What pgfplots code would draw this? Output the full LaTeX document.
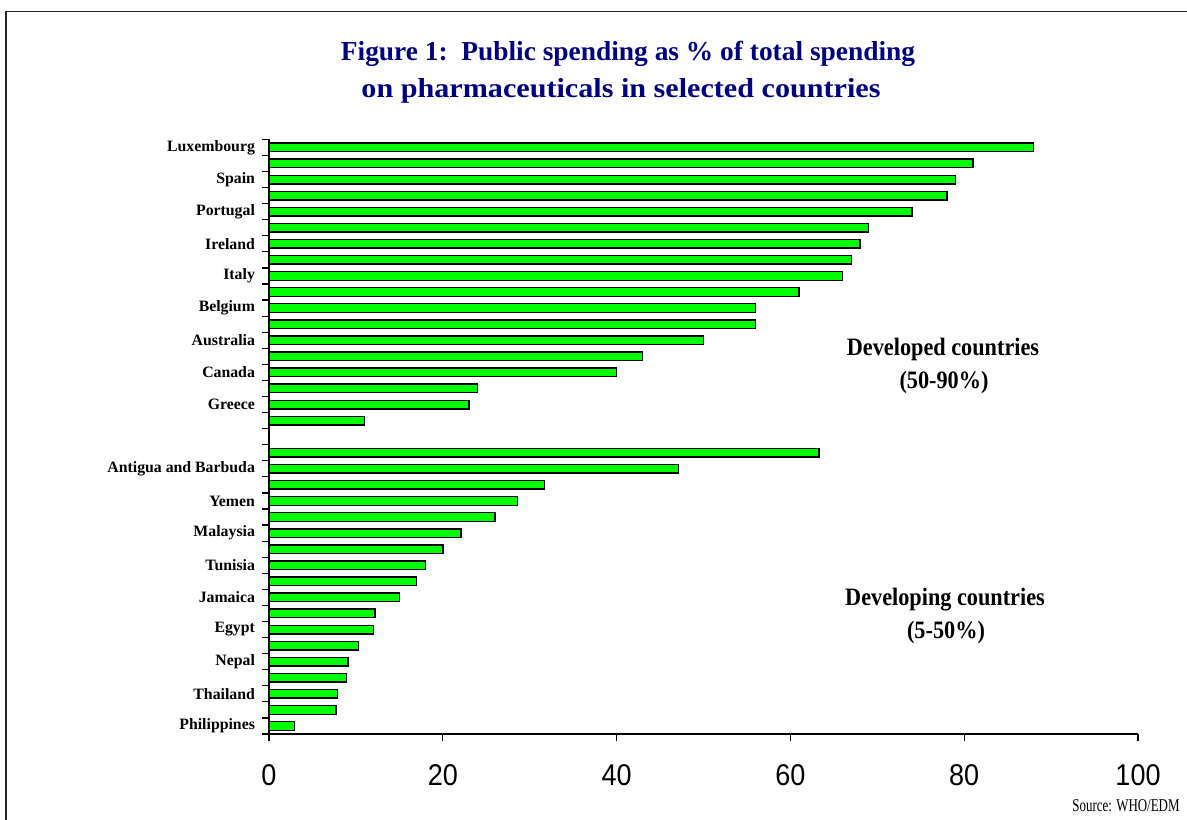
\documentclass[border=0pt]{standalone}
\usepackage{pgfplots}
\pgfplotsset{compat=1.18}
\usepackage{fontspec}
\setmainfont{Liberation Serif}
\setsansfont{Liberation Sans}
\usepackage{graphicx}
\definecolor{barg}{HTML}{00FF00}
\definecolor{navy}{HTML}{000080}
\begin{document}
\begin{tikzpicture}
\useasboundingbox (0,0) rectangle (593.5pt,-409.5pt);
\draw[line width=0.8pt, black!85] (3pt,-420pt) -- (3pt,-5.8pt) -- (600pt,-5.8pt);
\node[anchor=base, inner sep=0pt, font=\fontsize{13.7}{16}\selectfont\bfseries, text=navy] at (314pt,-30pt) {Figure 1:\ \ Public spending as \% of total spending};
\node[anchor=base, inner sep=0pt, font=\fontsize{13.7}{16}\selectfont\bfseries, text=navy] at (310.5pt,-48.5pt) {\scalebox{1.1}[1]{on pharmaceuticals in selected countries}};
\begin{axis}[
  at={(134.5pt,-367pt)}, anchor=south west,
  scale only axis, width=434.5pt, height=297.35pt,
  xmin=0, xmax=100, ymin=-0.5, ymax=36.5, y dir=reverse,
  axis x line*=bottom, axis y line*=left,
  axis line style={line width=0.6pt, black},
  xtick={0,20,...,100},
  ytick={-0.5,0.5,...,36.5}, yticklabels={},
  extra y ticks={0,2,...,36},
  extra y tick labels={Luxembourg,Spain,Portugal,Ireland,Italy,Belgium,Australia,Canada,Greece,,Antigua and Barbuda,Yemen,Malaysia,Tunisia,Jamaica,Egypt,Nepal,Thailand,Philippines},
  extra y tick style={tick style={draw=none}},
  tick align=outside, major tick length=3.5pt,
  tick style={black, line width=0.6pt},
  /pgf/number format/assume math mode=true,
  xticklabel={\scalebox{0.9}[1]{\pgfmathprintnumber{\tick}}},
  xticklabel style={font=\sffamily\fontsize{15}{15}\selectfont, yshift=-8pt},
  yticklabel style={font=\bfseries\fontsize{7.9}{9}\selectfont},
  xbar, bar width=4.3pt,
  clip=false,
]
\addplot[xbar, fill=barg, draw=black, line width=0.7pt] coordinates {
(88,0) (81,1) (79,2) (78,3) (74,4) (69,5) (68,6) (67,7) (66,8) (61,9)
(56,10) (56,11) (50,12) (43,13) (40,14) (24,15) (23,16) (11,17)
(63.3,19) (47.1,20) (31.7,21) (28.6,22) (26.0,23) (22.1,24) (20.0,25) (18.0,26) (17.0,27)
(15.0,28) (12.2,29) (12.0,30) (10.3,31) (9.1,32) (8.9,33) (7.9,34) (7.7,35) (2.9,36)
};
\end{axis}
\node[anchor=base, inner sep=0pt, font=\fontsize{12.5}{14}\selectfont\bfseries] at (471.5pt,-177.5pt) {\scalebox{0.89}[1]{Developed countries}};
\node[anchor=base, inner sep=0pt, font=\fontsize{12.5}{14}\selectfont\bfseries] at (472pt,-194pt) {\scalebox{0.89}[1]{(50-90\%)}};
\node[anchor=base, inner sep=0pt, font=\fontsize{12.5}{14}\selectfont\bfseries] at (472.5pt,-302.5pt) {\scalebox{0.89}[1]{Developing countries}};
\node[anchor=base, inner sep=0pt, font=\fontsize{12.5}{14}\selectfont\bfseries] at (473pt,-319pt) {\scalebox{0.89}[1]{(5-50\%)}};
\node[anchor=base east, inner sep=0pt, font=\fontsize{9}{10}\selectfont] at (590pt,-405.5pt) {\scalebox{0.72}[1]{Source: WHO/EDM}};
\end{tikzpicture}
\end{document}
